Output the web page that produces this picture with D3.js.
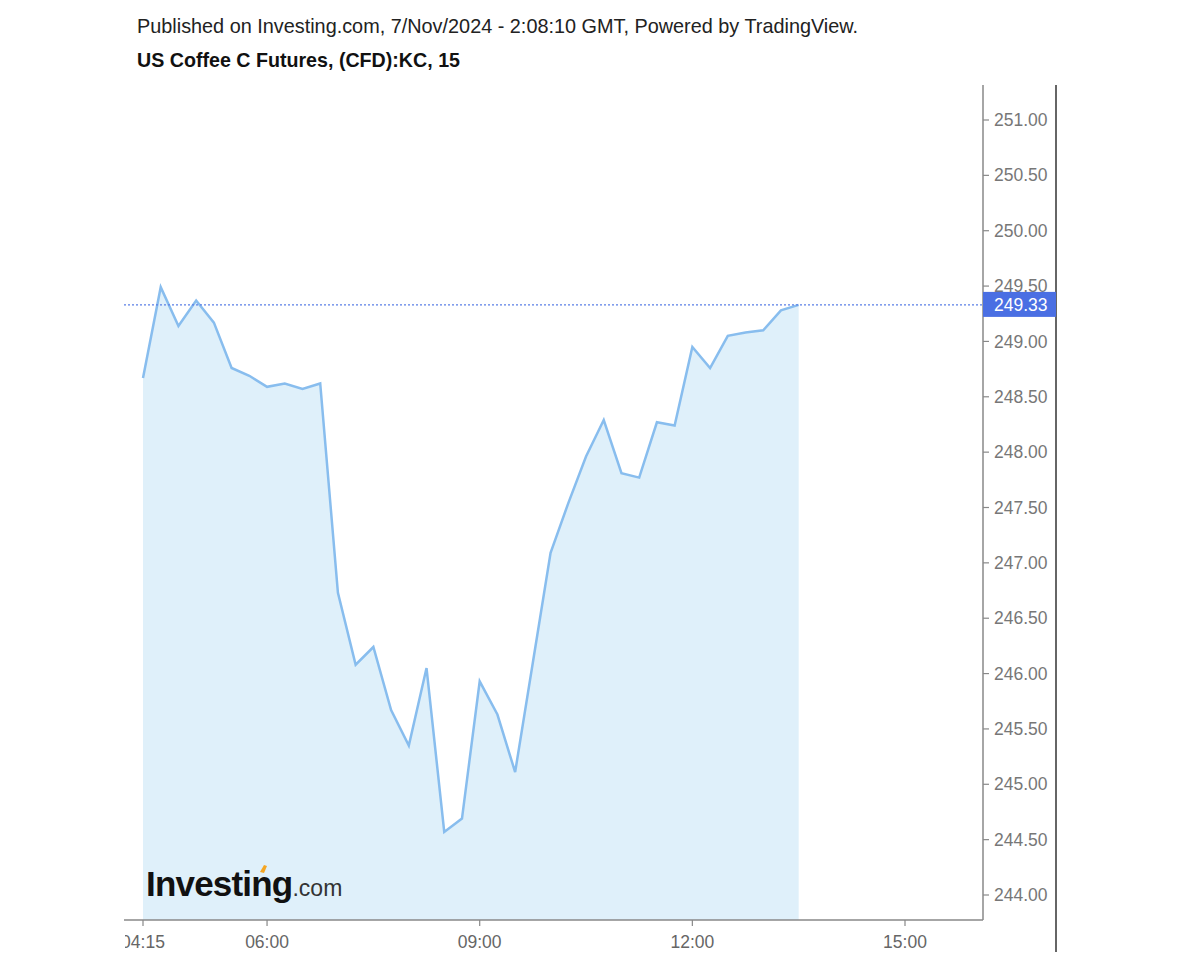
<!DOCTYPE html>
<html>
<head>
<meta charset="utf-8">
<script src="https://cdn.jsdelivr.net/npm/d3@7"></script>
<style>
  body { margin: 0; background: #fff; }
  svg { display: block; font-family: "Liberation Sans", Arial, sans-serif; }
</style>
</head>
<body>
<svg id="chart" width="1200" height="960"></svg>
<script>
// 15 minute bars, 04:15 -> 13:30
var times = ["04:15","04:30","04:45","05:00","05:15","05:30","05:45","06:00","06:15","06:30",
  "06:45","07:00","07:15","07:30","07:45","08:00","08:15","08:30","08:45","09:00",
  "09:15","09:30","09:45","10:00","10:15","10:30","10:45","11:00","11:15","11:30",
  "11:45","12:00","12:15","12:30","12:45","13:00","13:15","13:30"];
var prices = [248.67, 249.49, 249.14, 249.37, 249.17, 248.76, 248.69, 248.59, 248.62, 248.57,
  248.62, 246.73, 246.08, 246.24, 245.67, 245.35, 246.05, 244.57, 244.69, 245.93,
  245.63, 245.11, 246.10, 247.09, 247.54, 247.96, 248.29, 247.81, 247.77, 248.27,
  248.24, 248.95, 248.76, 249.05, 249.08, 249.10, 249.28, 249.33];
var lastPrice = 249.33;
var yTicks = [244, 244.5, 245, 245.5, 246, 246.5, 247, 247.5, 248, 248.5, 249, 249.5, 250, 250.5, 251];
var xTicks = ["04:15", "06:00", "09:00", "12:00", "15:00"];

var svg = d3.select("#chart"),
  plotLeft = 124, plotRight = 983, plotTop = 85, plotBottom = 920, outerRight = 1056;

function mins(s) {
  var p = s.split(":");
  return +p[0] * 60 + +p[1];
}

var x = d3.scaleLinear().domain([255, 900]).range([143, 905]);
var y = d3.scaleLinear().domain([244, 251]).range([895, 120]);

var data = times.map(function (t, i) { return { t: mins(t), v: prices[i] }; });

// header
svg.append("text").attr("x", 137).attr("y", 33)
  .attr("font-size", 19.85).attr("fill", "#222")
  .text("Published on Investing.com, 7/Nov/2024 - 2:08:10 GMT, Powered by TradingView.");
svg.append("text").attr("x", 137).attr("y", 67)
  .attr("font-size", 19.65).attr("font-weight", "bold").attr("fill", "#111")
  .text("US Coffee C Futures, (CFD):KC, 15");

// area + line
svg.append("path").datum(data)
  .attr("fill", "#dff0fa")
  .attr("d", d3.area().x(function (d) { return x(d.t); }).y0(plotBottom).y1(function (d) { return y(d.v); }));

svg.append("path").datum(data)
  .attr("fill", "none").attr("stroke", "#88bdee").attr("stroke-width", 2.5)
  .attr("d", d3.line().x(function (d) { return x(d.t); }).y(function (d) { return y(d.v); }));

// last price dotted line
svg.append("line")
  .attr("x1", plotLeft).attr("x2", plotRight).attr("y1", y(lastPrice)).attr("y2", y(lastPrice))
  .attr("stroke", "#5a7fe6").attr("stroke-width", 1.3).attr("stroke-dasharray", "2,2");

// logo
var logo = svg.append("text").attr("x", 146).attr("y", 896);
logo.append("tspan").attr("font-size", 35).attr("font-weight", "bold").attr("fill", "#111")
  .attr("letter-spacing", -0.8).text("Investing");
logo.append("tspan").attr("font-size", 23).attr("fill", "#333").text(".com");
svg.append("path").attr("d", "M260,872 l4,-7 l3,1 l-3,7 z").attr("fill", "#f5a623");

// x axis
svg.append("line").attr("x1", plotLeft).attr("x2", plotRight).attr("y1", plotBottom).attr("y2", plotBottom)
  .attr("stroke", "#888").attr("stroke-width", 1.5);
svg.append("clipPath").attr("id", "xclip")
  .append("rect").attr("x", 125).attr("y", plotBottom).attr("width", 900).attr("height", 40);
var xg = svg.append("g").attr("clip-path", "url(#xclip)");
xTicks.forEach(function (t) {
  var px = x(mins(t));
  xg.append("line").attr("x1", px).attr("x2", px).attr("y1", plotBottom).attr("y2", plotBottom + 6)
    .attr("stroke", "#888").attr("stroke-width", 1.2);
  xg.append("text").attr("x", px).attr("y", plotBottom + 28).attr("text-anchor", "middle")
    .attr("font-size", 17.5).attr("fill", "#666").text(t);
});

// y axis (right side)
svg.append("line").attr("x1", plotRight).attr("x2", plotRight).attr("y1", plotTop).attr("y2", plotBottom)
  .attr("stroke", "#888").attr("stroke-width", 1.5);
svg.append("line").attr("x1", outerRight).attr("x2", outerRight).attr("y1", plotTop).attr("y2", 952)
  .attr("stroke", "#333").attr("stroke-width", 1.5);
yTicks.forEach(function (v) {
  svg.append("line").attr("x1", plotRight).attr("x2", plotRight + 6).attr("y1", y(v)).attr("y2", y(v))
    .attr("stroke", "#888").attr("stroke-width", 1.2);
  svg.append("text").attr("x", 994).attr("y", y(v)).attr("dy", "0.35em")
    .attr("font-size", 17.5).attr("fill", "#777").text(v.toFixed(2));
});

// last price label
var ly = y(lastPrice);
svg.append("rect").attr("x", plotRight).attr("y", ly - 13).attr("width", outerRight - plotRight).attr("height", 25)
  .attr("fill", "#4a6fe3");
svg.append("text").attr("x", 994).attr("y", ly).attr("dy", "0.35em")
  .attr("font-size", 17.5).attr("fill", "#fff").text(lastPrice.toFixed(2));
</script>
</body>
</html>
